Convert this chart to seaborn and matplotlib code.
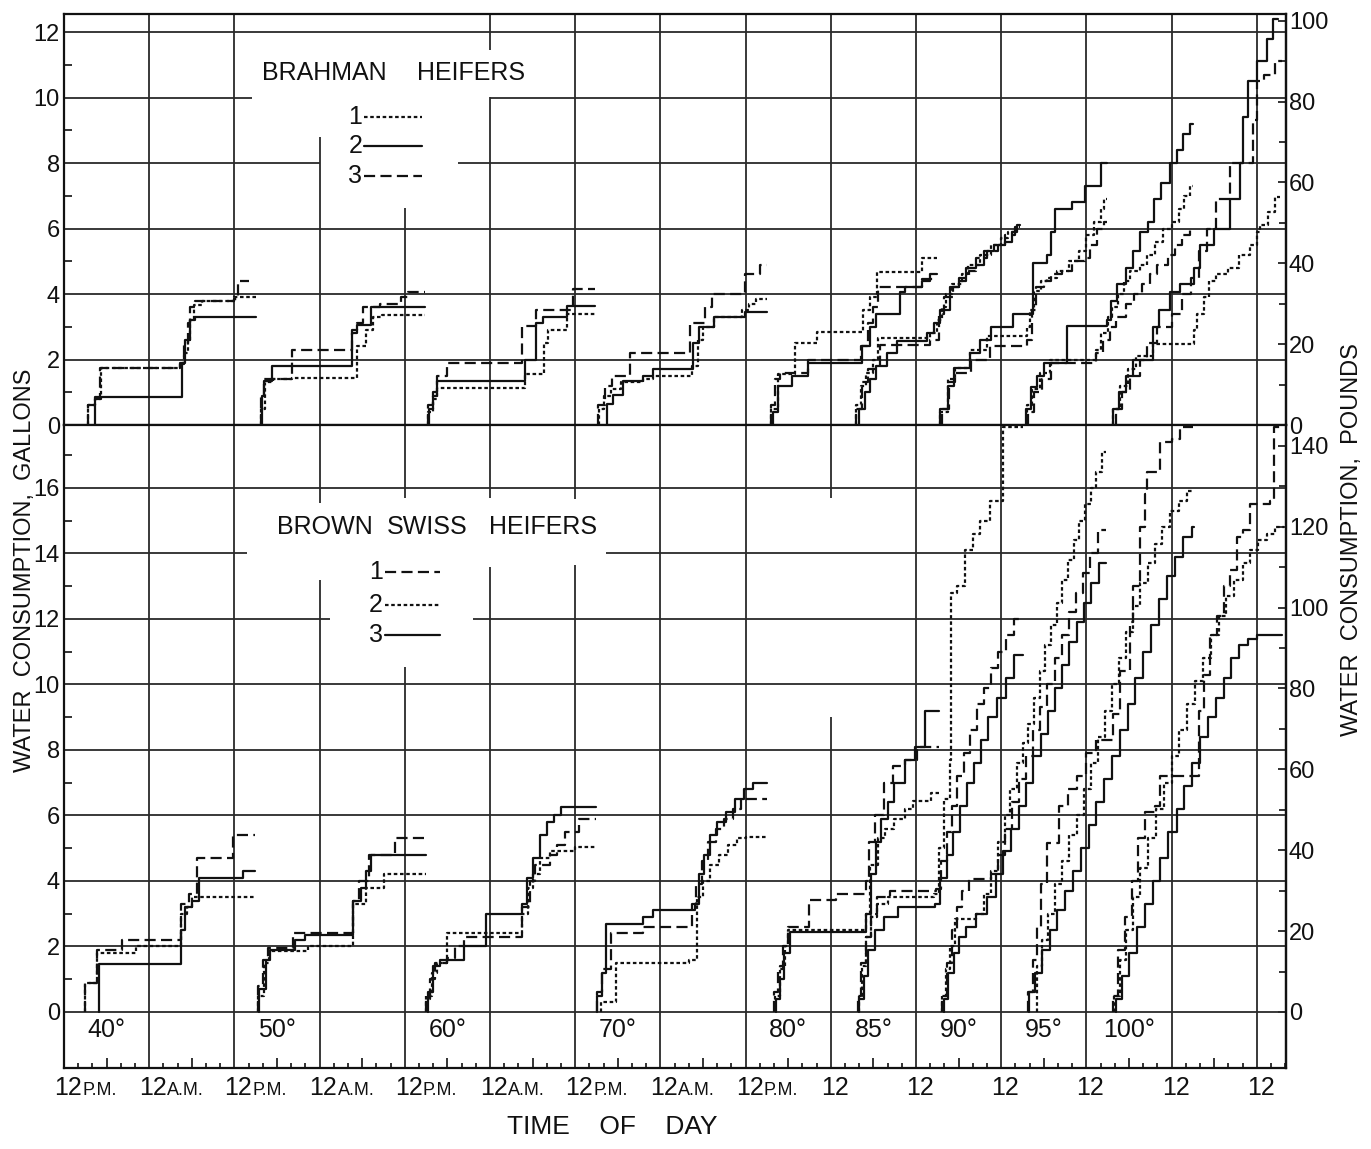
import matplotlib
matplotlib.use("Agg")
import matplotlib.pyplot as plt
import seaborn as sns
import pandas as pd

sns.set_theme(style="white")
plt.rcParams['font.family'] = ['Liberation Sans', 'DejaVu Sans']

# --- data -------------------------------------------------------------
temps = [40, 50, 60, 70, 80, 85, 90, 95, 100]
temp_labels = ["40°", "50°", "60°", "70°", "80°", "85°", "90°", "95°", "100°"]
period_start = [0, 24, 48, 72, 96, 108, 120, 132, 144]   # hours from first 12 P.M.
tick_hours = list(range(0, 169, 12))
tick_suffix = ["P.M.", "A.M.", "P.M.", "A.M.", "P.M.", "A.M.", "P.M.", "A.M.", "P.M.",
               "", "", "", "", "", ""]
pounds_top = [0, 20, 40, 60, 80, 100]
pounds_bottom = [0, 20, 40, 60, 80, 100, 120, 140]

# each curve: (hours since period start, cumulative gallons), steps-post
# Brahman heifers: [1 dotted, 2 solid, 3 dashed]
brahman_40 = [
    [(3.4, 0), (3.4, 0.6), (4.4, 0.8), (5.2, 1.75), (16.4, 1.85), (16.9, 2.2), (17.4, 2.6), (17.8, 3.2),
     (18.3, 3.65), (19.5, 3.8), (24.0, 3.9), (27.0, 3.9)],
    [(4.3, 0), (4.3, 0.85), (16.6, 1.9), (17.1, 2.6), (17.7, 3.2), (18.5, 3.3), (27.0, 3.3)],
    [(3.4, 0), (3.4, 0.6), (4.4, 0.8), (5.1, 1.75), (16.3, 1.9), (16.9, 2.5), (17.5, 3.1), (17.8, 3.6),
     (18.5, 3.8), (24.0, 3.85), (24.5, 4.4), (26.0, 4.4)],
]
brahman_50 = [
    [(3.8, 0), (3.8, 0.5), (4.3, 1.3), (5.5, 1.4), (8.1, 1.45), (17.2, 2.4), (18.6, 2.9), (19.5, 3.3),
     (20.8, 3.35), (26.8, 3.35)],
    [(3.9, 0), (3.9, 0.9), (4.2, 1.35), (5.3, 1.8), (16.5, 2.8), (17.2, 3.05), (19.2, 3.6), (26.8, 3.6)],
    [(3.8, 0), (3.8, 0.9), (4.1, 1.4), (8.1, 2.3), (16.5, 2.9), (17.3, 3.1), (18.1, 3.6), (20.5, 3.7),
     (23.5, 3.9), (24.5, 4.05), (26.8, 4.05)],
]
brahman_60 = [
    [(3.3, 0), (3.3, 0.4), (3.9, 0.8), (4.6, 1.14), (16.9, 1.55), (19.6, 2.5), (20.2, 2.9), (22.8, 3.4),
     (26.8, 3.4)],
    [(3.4, 0), (3.4, 0.5), (4.0, 0.9), (4.6, 1.35), (16.9, 2.0), (18.5, 3.1), (19.5, 3.3), (22.8, 3.64),
     (26.8, 3.64)],
    [(3.3, 0), (3.3, 0.6), (4.0, 1.0), (4.5, 1.5), (5.9, 1.9), (16.5, 3.03), (18.5, 3.5), (23.7, 4.15),
     (26.8, 4.15)],
]
brahman_70 = [
    [(3.3, 0), (3.3, 0.5), (4.0, 0.9), (5.0, 1.1), (6.5, 1.3), (9.5, 1.4), (11.0, 1.5), (16.4, 1.8),
     (17.3, 2.6), (18.0, 3.0), (19.5, 3.3), (23.5, 3.5), (24.5, 3.7), (25.5, 3.85), (27.0, 3.85)],
    [(4.5, 0), (4.5, 0.63), (5.3, 0.93), (6.7, 1.35), (9.5, 1.5), (10.9, 1.7), (16.6, 2.5), (17.5, 3.0),
     (19.6, 3.3), (23.9, 3.45), (27.0, 3.45)],
    [(3.2, 0), (3.2, 0.6), (4.2, 1.2), (5.2, 1.5), (7.7, 2.2), (16.2, 3.1), (18.3, 3.6), (19.3, 4.0),
     (23.9, 4.6), (26.0, 4.9), (27.0, 4.9)],
]
brahman_80 = [
    [(3.6, 0), (3.6, 0.5), (4.6, 1.55), (7.0, 2.5), (10.0, 2.85), (16.5, 3.5), (17.5, 3.9), (18.5, 4.66),
     (24.8, 5.1), (26.9, 5.1)],
    [(3.8, 0), (3.8, 0.4), (4.6, 1.2), (6.5, 1.5), (8.8, 1.9), (16.4, 2.4), (17.5, 3.0), (18.3, 3.4),
     (21.7, 4.05), (22.5, 4.2), (24.8, 4.4), (26.0, 4.6), (26.9, 4.6)],
    [(3.5, 0), (3.5, 0.6), (4.2, 1.4), (4.8, 1.6), (8.8, 2.0), (16.2, 2.4), (17.2, 3.1), (18.0, 3.6),
     (18.6, 4.2), (24.8, 4.45), (26.9, 4.45)],
]
brahman_85 = [
    [(3.6, 0), (3.6, 0.6), (4.3, 1.2), (5.0, 1.6), (6.0, 2.0), (6.6, 2.67), (14.0, 2.8), (15.0, 3.2),
     (15.6, 3.6), (16.2, 4.0), (17.0, 4.3), (18.5, 4.6), (19.3, 4.9), (21.0, 5.2), (22.5, 5.5), (24.0, 5.7),
     (25.0, 5.9), (26.0, 6.05), (26.6, 6.05)],
    [(4.0, 0), (4.0, 0.5), (4.8, 1.0), (5.5, 1.4), (6.4, 1.8), (7.9, 2.2), (9.3, 2.57), (13.5, 2.8),
     (14.5, 3.1), (15.4, 3.5), (16.8, 4.2), (18.0, 4.4), (19.0, 4.8), (20.5, 4.9), (21.5, 5.3), (23.0, 5.5),
     (24.5, 5.6), (25.5, 5.9), (26.2, 6.1), (26.6, 6.1)],
    [(3.6, 0), (3.6, 0.5), (4.4, 1.3), (5.2, 1.7), (6.9, 2.45), (14.0, 2.6), (15.2, 3.4), (16.0, 3.9),
     (17.2, 4.2), (18.0, 4.5), (19.5, 4.7), (20.5, 5.1), (22.0, 5.3), (23.5, 5.5), (24.5, 5.8), (26.0, 6.0),
     (26.6, 6.0)],
]
brahman_90 = [
    [(3.4, 0), (3.4, 0.4), (4.5, 1.4), (5.5, 1.75), (7.6, 2.3), (10.0, 2.72), (15.6, 3.0), (16.0, 3.5),
     (16.6, 4.1), (17.6, 4.4), (18.5, 4.5), (19.8, 4.7), (21.5, 5.0), (23.0, 5.3), (24.0, 5.8), (25.0, 6.2),
     (26.0, 6.6), (26.5, 6.9), (26.9, 6.9)],
    [(3.4, 0), (3.4, 0.5), (4.5, 1.2), (5.3, 1.75), (7.6, 2.2), (9.0, 2.6), (10.5, 3.0), (13.7, 3.4),
     (16.4, 4.96), (18.4, 5.2), (19.0, 5.9), (19.6, 6.6), (21.9, 6.8), (23.8, 7.3), (26.0, 8.0), (26.9, 8.0)],
    [(3.6, 0), (3.6, 0.5), (4.6, 1.3), (5.5, 1.6), (7.8, 2.0), (10.4, 2.42), (15.6, 2.6), (16.3, 3.5),
     (16.9, 4.2), (18.0, 4.4), (19.0, 4.6), (20.5, 4.7), (22.0, 5.0), (23.8, 5.1), (24.5, 5.5), (25.5, 6.0),
     (26.5, 6.2), (26.9, 6.2)],
]
brahman_95 = [
    [(3.6, 0), (3.6, 0.6), (4.3, 1.1), (5.5, 1.6), (6.8, 2.0), (13.4, 2.3), (14.0, 2.8), (15.0, 3.3),
     (15.6, 3.6), (16.5, 4.0), (17.3, 4.4), (18.2, 4.7), (19.5, 4.9), (20.5, 5.2), (21.7, 5.6), (22.8, 6.0),
     (24.0, 6.2), (25.0, 6.6), (25.8, 7.0), (26.6, 7.3), (27.0, 7.3)],
    [(3.5, 0), (3.5, 0.5), (4.2, 1.15), (5.0, 1.5), (6.0, 1.9), (9.2, 3.03), (14.9, 3.2), (15.5, 3.8),
     (16.3, 4.3), (17.5, 4.8), (18.5, 5.3), (19.5, 5.9), (20.6, 6.2), (21.5, 6.9), (22.5, 7.4), (23.8, 8.0),
     (24.8, 8.4), (25.6, 8.9), (26.6, 9.2), (27.0, 9.2)],
    [(3.8, 0), (3.8, 0.4), (4.6, 1.0), (5.8, 1.4), (7.0, 1.9), (13.4, 2.2), (14.3, 2.6), (15.3, 3.0),
     (16.2, 3.3), (17.5, 3.7), (18.7, 4.0), (19.8, 4.3), (21.0, 4.6), (22.0, 4.9), (23.5, 5.2), (24.5, 5.5),
     (25.5, 5.8), (26.6, 6.0), (27.0, 6.0)],
]
brahman_100 = [
    [(3.8, 0), (3.8, 0.5), (4.7, 1.2), (5.8, 1.7), (7.0, 2.1), (9.4, 2.47), (15.1, 2.9), (15.6, 3.4),
     (16.5, 3.9), (17.3, 4.4), (18.2, 4.6), (20.0, 4.8), (21.5, 5.2), (23.0, 5.5), (24.0, 5.9), (24.5, 6.1),
     (25.5, 6.5), (26.5, 6.95), (27.2, 6.95)],
    [(3.8, 0), (3.8, 0.5), (4.6, 1.0), (5.5, 1.5), (6.6, 2.0), (9.3, 3.0), (10.2, 3.5), (11.8, 4.05),
     (13.2, 4.3), (15.1, 4.8), (16.0, 5.5), (17.9, 6.0), (20.2, 6.9), (21.6, 8.0), (22.0, 9.4), (22.8, 10.5),
     (24.0, 11.1), (25.4, 11.8), (26.3, 12.4), (27.0, 12.4)],
    [(4.2, 0), (4.2, 0.5), (5.0, 1.0), (6.2, 1.5), (7.5, 2.0), (8.5, 2.5), (10.0, 3.0), (12.0, 3.4),
     (13.5, 4.0), (14.7, 4.5), (15.8, 5.3), (17.0, 6.0), (18.3, 6.9), (20.2, 8.0), (23.5, 9.3), (24.0, 10.5),
     (25.0, 10.7), (26.5, 11.1), (27.6, 11.1)],
]

# Brown Swiss heifers: [1 dashed, 2 dotted, 3 solid]
swiss_40 = [
    [(3.0, 0), (3.0, 0.9), (4.7, 1.9), (8.2, 2.2), (16.5, 3.3), (17.6, 3.6), (18.7, 4.7), (23.8, 5.4),
     (26.9, 5.4)],
    [(3.0, 0), (3.0, 0.9), (4.7, 1.8), (10.2, 2.0), (16.5, 3.0), (17.3, 3.2), (18.0, 3.5), (26.9, 3.5)],
    [(4.9, 0), (4.9, 1.45), (16.5, 2.5), (17.0, 3.2), (18.0, 3.4), (19.0, 4.1), (25.2, 4.3), (26.9, 4.3)],
]
swiss_50 = [
    [(3.3, 0), (3.3, 0.8), (4.0, 1.6), (4.7, 1.95), (8.2, 2.4), (16.7, 3.4), (17.6, 4.0), (18.9, 4.8),
     (22.6, 5.3), (27.0, 5.3)],
    [(3.3, 0), (3.3, 0.5), (4.2, 1.5), (4.9, 1.85), (10.4, 2.0), (16.7, 3.3), (18.5, 3.8), (21.0, 4.2),
     (27.0, 4.2)],
    [(3.5, 0), (3.5, 0.7), (4.4, 1.6), (5.0, 1.9), (8.5, 2.2), (10.0, 2.35), (16.7, 3.4), (17.8, 3.8),
     (18.6, 4.3), (19.3, 4.8), (27.0, 4.8)],
]
swiss_60 = [
    [(3.0, 0), (3.0, 0.4), (3.6, 1.0), (4.2, 1.5), (5.9, 1.65), (7.0, 2.0), (8.4, 2.3), (16.5, 3.2),
     (17.6, 4.0), (18.4, 4.5), (20.4, 4.8), (21.5, 5.1), (22.5, 5.5), (24.5, 5.9), (26.9, 5.9)],
    [(3.0, 0), (3.0, 0.5), (3.8, 1.2), (4.5, 1.5), (5.9, 2.4), (16.5, 3.0), (17.3, 3.8), (18.0, 4.2),
     (19.0, 4.7), (20.4, 4.9), (24.0, 5.05), (26.9, 5.05)],
    [(3.2, 0), (3.2, 0.6), (4.0, 1.4), (5.0, 1.6), (8.4, 2.0), (11.5, 3.0), (16.5, 3.3), (17.2, 4.1),
     (18.0, 4.7), (19.0, 5.4), (20.0, 5.8), (21.0, 6.0), (22.0, 6.27), (26.9, 6.27)],
]
swiss_70 = [
    [(3.0, 0), (3.0, 0.6), (3.8, 1.3), (5.0, 2.4), (9.5, 2.6), (16.4, 3.3), (17.0, 3.9), (17.8, 4.6),
     (18.7, 5.2), (19.8, 5.6), (21.0, 5.9), (22.2, 6.2), (23.4, 6.5), (27.0, 6.5)],
    [(3.6, 0), (3.6, 0.3), (5.7, 1.5), (16.0, 1.6), (17.2, 3.5), (18.0, 4.0), (19.0, 4.5), (20.3, 4.8),
     (21.5, 5.1), (22.8, 5.3), (24.0, 5.35), (27.0, 5.35)],
    [(3.0, 0), (3.0, 0.5), (3.7, 1.2), (4.3, 2.7), (9.5, 2.9), (11.0, 3.1), (16.8, 3.3), (17.4, 4.2),
     (18.2, 4.8), (19.0, 5.4), (20.0, 5.8), (21.2, 6.1), (22.5, 6.5), (23.8, 6.8), (25.0, 7.0), (27.0, 7.0)],
]
swiss_80 = [
    [(4.0, 0), (4.0, 0.6), (4.6, 1.3), (5.2, 2.0), (5.9, 2.6), (8.9, 3.43), (12.7, 3.6), (16.9, 4.0),
     (17.4, 5.2), (18.2, 6.0), (19.5, 7.0), (20.8, 7.5), (22.4, 7.7), (24.2, 8.1), (27.3, 8.1)],
    [(4.2, 0), (4.2, 0.5), (4.8, 1.4), (5.5, 2.0), (6.0, 2.5), (16.9, 3.0), (17.5, 4.5), (18.6, 5.3),
     (19.6, 5.6), (20.9, 5.9), (22.5, 6.2), (23.5, 6.45), (26.1, 6.7), (27.3, 6.7)],
    [(4.3, 0), (4.3, 0.4), (4.9, 1.0), (5.4, 1.8), (6.2, 2.44), (17.0, 3.0), (17.6, 4.2), (18.3, 5.2),
     (19.0, 5.9), (20.0, 6.4), (20.9, 7.0), (22.4, 7.7), (23.8, 8.1), (25.2, 9.2), (27.3, 9.2)],
]
swiss_85 = [
    [(3.8, 0), (3.8, 0.5), (4.3, 1.5), (4.9, 2.3), (5.6, 3.0), (6.5, 3.5), (8.3, 3.7), (14.8, 3.75),
     (15.5, 4.6), (16.3, 5.5), (17.0, 6.3), (17.8, 7.2), (18.7, 7.9), (19.6, 8.6), (20.6, 9.4), (21.6, 9.9),
     (22.6, 10.5), (23.6, 11.0), (24.6, 11.5), (25.8, 12.0), (27.0, 12.0)],
    [(3.9, 0), (3.9, 0.5), (4.4, 1.4), (5.0, 2.3), (5.6, 2.9), (6.5, 3.3), (8.0, 3.5), (14.5, 3.6),
     (15.2, 5.0), (16.0, 6.5), (16.8, 7.7), (16.9, 12.8), (17.8, 13.0), (18.9, 14.1), (20.0, 14.6),
     (21.0, 15.0), (22.4, 15.6), (24.3, 17.85), (27.0, 17.85)],
    [(4.0, 0), (4.0, 0.4), (4.6, 1.1), (5.3, 1.9), (6.2, 2.5), (7.5, 2.9), (9.5, 3.2), (14.6, 3.3),
     (15.4, 4.1), (16.3, 4.8), (17.2, 5.5), (18.2, 6.3), (19.2, 7.0), (20.2, 7.6), (21.2, 8.3), (22.2, 9.0),
     (23.4, 9.6), (24.6, 10.2), (25.8, 10.9), (27.0, 10.9)],
]
swiss_90 = [
    [(3.7, 0), (3.7, 0.5), (4.3, 1.5), (5.0, 2.5), (5.8, 3.2), (6.5, 3.7), (7.5, 4.05), (10.5, 4.2),
     (11.5, 4.8), (12.5, 5.6), (13.5, 6.4), (14.5, 7.1), (15.5, 7.8), (16.5, 8.6), (17.5, 9.3), (18.5, 10.0),
     (19.5, 10.8), (20.5, 11.5), (21.5, 12.2), (22.5, 12.8), (23.5, 13.4), (24.5, 14.0), (25.6, 14.7),
     (26.8, 14.7)],
    [(3.6, 0), (3.6, 0.5), (4.2, 1.3), (4.8, 2.0), (5.5, 2.85), (8.5, 3.0), (9.5, 3.6), (10.5, 4.3),
     (11.5, 5.2), (12.5, 6.0), (13.3, 6.8), (14.2, 7.6), (15.0, 8.2), (15.8, 8.8), (16.6, 9.6), (17.4, 10.4),
     (18.2, 11.2), (19.0, 11.8), (19.8, 12.5), (20.6, 13.2), (21.4, 13.8), (22.2, 14.4), (23.0, 15.0),
     (23.8, 15.5), (24.6, 16.0), (25.4, 16.5), (26.2, 17.1), (26.8, 17.1)],
    [(3.9, 0), (3.9, 0.4), (4.5, 1.2), (5.3, 1.8), (6.0, 2.3), (7.0, 2.6), (8.5, 3.0), (10.0, 3.5),
     (11.2, 4.2), (12.3, 4.9), (13.4, 5.6), (14.5, 6.3), (15.5, 7.0), (16.5, 7.8), (17.6, 8.5), (18.6, 9.2),
     (19.6, 9.9), (20.6, 10.6), (21.6, 11.3), (22.6, 11.9), (23.6, 12.5), (24.7, 13.1), (25.8, 13.7),
     (26.8, 13.7)],
]
swiss_95 = [
    [(3.7, 0), (3.7, 0.6), (4.4, 1.6), (5.0, 2.6), (5.6, 3.9), (6.4, 5.15), (8.2, 6.3), (9.4, 6.8),
     (10.6, 7.2), (12.0, 7.9), (13.4, 8.3), (15.8, 9.1), (16.7, 10.4), (18.1, 11.9), (18.6, 13.0),
     (19.5, 14.8), (20.2, 15.8), (20.5, 16.5), (22.3, 17.4), (24.0, 17.5), (25.2, 17.85), (27.0, 17.85)],
    [(5.1, 0), (5.1, 1.4), (5.8, 2.2), (6.6, 3.0), (7.6, 3.9), (8.6, 4.6), (9.6, 5.4), (10.6, 6.0),
     (11.6, 6.8), (12.6, 7.6), (13.6, 8.4), (14.6, 9.2), (15.6, 10.0), (16.6, 10.8), (17.6, 11.6),
     (18.6, 12.4), (19.6, 13.1), (20.6, 13.7), (21.6, 14.3), (22.6, 14.8), (23.8, 15.3), (25.0, 15.6),
     (26.2, 15.9), (27.0, 15.9)],
    [(3.9, 0), (3.9, 0.6), (4.8, 1.2), (5.8, 1.9), (6.8, 2.5), (7.9, 3.1), (9.0, 3.7), (10.1, 4.3),
     (11.2, 5.0), (12.3, 5.7), (13.4, 6.4), (14.5, 7.1), (15.6, 7.8), (16.7, 8.6), (17.8, 9.4), (18.9, 10.2),
     (20.0, 11.0), (21.1, 11.8), (22.2, 12.6), (23.3, 13.3), (24.4, 13.9), (25.6, 14.5), (26.8, 14.8),
     (27.2, 14.8)],
]
swiss_100 = [
    [(3.8, 0), (3.8, 0.5), (4.5, 1.9), (5.4, 2.9), (6.4, 4.0), (7.3, 5.3), (8.2, 6.1), (9.6, 6.3),
     (10.4, 7.2), (15.8, 9.2), (16.5, 10.3), (17.4, 11.5), (18.4, 12.1), (19.3, 13.0), (20.2, 13.5),
     (21.2, 14.5), (22.1, 14.7), (23.0, 15.5), (25.9, 15.6), (26.4, 17.85), (27.3, 17.85)],
    [(3.9, 0), (3.9, 0.5), (4.7, 1.6), (5.5, 2.5), (6.5, 3.5), (7.6, 4.4), (8.7, 5.3), (9.8, 6.2),
     (10.9, 7.0), (12.0, 7.8), (13.1, 8.6), (14.2, 9.4), (15.3, 10.1), (16.4, 10.8), (17.5, 11.5),
     (18.6, 12.1), (19.7, 12.7), (20.8, 13.2), (22.0, 13.7), (23.1, 14.1), (24.2, 14.4), (25.4, 14.6),
     (26.6, 14.8), (27.8, 14.8)],
    [(4.2, 0), (4.2, 0.4), (5.0, 1.1), (6.0, 1.8), (7.1, 2.6), (8.2, 3.3), (9.3, 4.0), (10.4, 4.7),
     (11.5, 5.5), (12.7, 6.2), (13.8, 6.9), (14.9, 7.6), (16.0, 8.4), (17.1, 9.0), (18.2, 9.6),
     (19.3, 10.2), (20.4, 10.8), (21.5, 11.2), (22.7, 11.4), (24.0, 11.5), (27.5, 11.5)],
]

brahman = [brahman_40, brahman_50, brahman_60, brahman_70, brahman_80,
           brahman_85, brahman_90, brahman_95, brahman_100]
swiss = [swiss_40, swiss_50, swiss_60, swiss_70, swiss_80,
         swiss_85, swiss_90, swiss_95, swiss_100]

# --- styles / layout --------------------------------------------------
LS = {"dotted": (0, (1.6, 1.2)), "solid": "-", "dashed": (0, (5.0, 2.4))}
brahman_styles = ["dotted", "solid", "dashed"]
swiss_styles = ["dashed", "dotted", "solid"]
INK = "#111111"
GRID = "#2a2a2a"
XMAX = 172.1
TOP_Y = (0, 12.55)
BOT_Y = (-1.71, 17.92)
LB_PER_GAL = 8.1

W, H = 1371, 1149
fig = plt.figure(figsize=(W / 100, H / 100), dpi=100)
fig.patch.set_facecolor("white")
ax_top = fig.add_axes([64 / W, 1 - 425 / H, (1286 - 64) / W, (425 - 14) / H])
ax_bot = fig.add_axes([64 / W, 1 - 1068 / H, (1286 - 64) / W, (1068 - 425) / H])


def draw_grid(ax, vsegs, hsegs, ylim):
    for h in tick_hours[1:]:
        for y0, y1 in vsegs.get(h, [ylim]):
            ax.vlines(h, y0, y1, color=GRID, lw=1.3, zorder=1)
    for g, segs in hsegs.items():
        for x0, x1 in segs:
            ax.hlines(g, x0, x1, color=GRID, lw=1.3, zorder=1)


full = [(0, XMAX)]
draw_grid(ax_top,
          {36: [(0, 8.78)], 48: [(0, 6.64)], 60: [(0, 10.03), (11.44, TOP_Y[1])]},
          {2: full, 4: full, 6: full, 8: [(0, 36), (55.5, XMAX)],
           10: [(0, 26.5), (60, XMAX)], 12: full},
          TOP_Y)
draw_grid(ax_bot,
          {36: [(BOT_Y[0], 13.19), (15.54, BOT_Y[1])], 48: [(BOT_Y[0], 10.53), (15.7, BOT_Y[1])],
           60: [(BOT_Y[0], 13.6), (15.7, BOT_Y[1])], 72: [(BOT_Y[0], 13.65), (15.65, BOT_Y[1])],
           108: [(BOT_Y[0], 9.0), (15.7, BOT_Y[1])]},
          {0: full, 2: full, 4: full, 6: full, 8: full, 10: full,
           12: [(0, 37.4), (57.6, XMAX)], 14: [(0, 25.8), (76.4, XMAX)], 16: full},
          BOT_Y)


def draw_curves(ax, groups, styles):
    for start, curves in zip(period_start, groups):
        for curve, st in zip(curves, styles):
            df = pd.DataFrame(curve, columns=["t", "gal"])
            df["t"] = df["t"] + start
            sns.lineplot(data=df, x="t", y="gal", ax=ax, estimator=None, sort=False,
                         drawstyle="steps-post", color=INK, linestyle=LS[st], lw=1.6,
                         zorder=4)


draw_curves(ax_top, brahman, brahman_styles)
draw_curves(ax_bot, swiss, swiss_styles)

for ax, ylim in ((ax_top, TOP_Y), (ax_bot, BOT_Y)):
    ax.set_xlim(0, XMAX)
    ax.set_ylim(*ylim)
    ax.set_xlabel("")
    ax.set_ylabel("")
    for sp in ax.spines.values():
        sp.set_color(INK)
        sp.set_linewidth(1.6)

# left axis ticks
ax_top.set_yticks(range(0, 13, 2))
ax_top.set_yticks(range(1, 12, 2), minor=True)
ax_bot.set_yticks(range(0, 17, 2))
ax_bot.set_yticks(range(1, 18, 2), minor=True)
for ax in (ax_top, ax_bot):
    ax.tick_params(axis="y", which="major", length=0, labelsize=17, pad=3, labelcolor=INK)
    ax.tick_params(axis="y", which="minor", direction="in", length=6, width=1.2, color=INK, left=True)

# x ticks only on the bottom spine
ax_top.set_xticks([])
ax_bot.set_xticks([h + 6 for h in tick_hours[:-1]] + [174])
ax_bot.set_xticks([h + d for h in tick_hours for d in (2, 4, 8, 10) if h + d < XMAX], minor=True)
ax_bot.set_xticklabels([])
ax_bot.tick_params(axis="x", which="major", direction="in", length=7, width=1.2, color=INK, bottom=True)
ax_bot.tick_params(axis="x", which="minor", direction="in", length=3.5, width=1.2, color=INK, bottom=True)
ax_bot.set_xlim(0, XMAX)

# right pound axes
for ax, ticks in ((ax_top, pounds_top), (ax_bot, pounds_bottom)):
    sec = ax.secondary_yaxis("right", functions=(lambda g: g * LB_PER_GAL, lambda p: p / LB_PER_GAL))
    sec.set_yticks(ticks)
    sec.set_yticks([t + 10 for t in ticks[:-1]], minor=True)
    sec.tick_params(which="major", direction="in", length=6, width=1.2, labelsize=17, pad=2,
                    color=INK, labelcolor=INK)
    sec.tick_params(which="minor", direction="in", length=5, width=1.2, color=INK)
    sec.spines["right"].set_linewidth(1.6)
    sec.spines["right"].set_color(INK)

# time of day labels
for h, suf in zip(tick_hours, tick_suffix):
    ax_bot.annotate("12", xy=(h, 0), xycoords=("data", "axes fraction"), xytext=(-10, -27),
                    textcoords="offset pixels", ha="left", va="baseline", fontsize=18, color=INK)
    if suf:
        ax_bot.annotate(suf, xy=(h, 0), xycoords=("data", "axes fraction"), xytext=(18, -27),
                        textcoords="offset pixels", ha="left", va="baseline", fontsize=13, color=INK)

# temperature labels
for start, lab in zip(period_start, temp_labels):
    ax_bot.text(start + 6, -0.55, lab, ha="center", va="center", fontsize=18, color=INK, zorder=5)

# titles and legends
for word, x in (("BRAHMAN", 27.9), ("HEIFERS", 49.7)):
    ax_top.text(x, 10.76, word, ha="left", va="center", fontsize=18, color=INK, zorder=5)
for word, x in (("BROWN", 30.0), ("SWISS", 45.5), ("HEIFERS", 59.8)):
    ax_bot.text(x, 14.8, word, ha="left", va="center", fontsize=18, color=INK, zorder=5)

for i, (y, st) in enumerate(zip([9.42, 8.53, 7.61], brahman_styles)):
    ax_top.text(42.0, y, str(i + 1), ha="right", va="center", fontsize=18, color=INK)
    ax_top.plot([42.2, 50.4], [y, y], color=INK, lw=1.6, linestyle=LS[st])
for i, (y, st) in enumerate(zip([13.43, 12.43, 11.5], swiss_styles)):
    ax_bot.text(44.9, y, str(i + 1), ha="right", va="center", fontsize=18, color=INK)
    ax_bot.plot([45.2, 52.9], [y, y], color=INK, lw=1.6, linestyle=LS[st])

# axis titles
fig.text(25 / W, 1 - 570 / H, "WATER  CONSUMPTION,  GALLONS", rotation=90, ha="center",
         va="center", fontsize=17, color=INK)
fig.text(1352 / W, 1 - 540 / H, "WATER  CONSUMPTION,  POUNDS", rotation=90, ha="center",
         va="center", fontsize=17, color=INK)
fig.text(612 / W, 1 - 1127 / H, "TIME    OF    DAY", ha="center", va="center", fontsize=19,
         color=INK)

fig.savefig("out.png", dpi=100, facecolor="white")
